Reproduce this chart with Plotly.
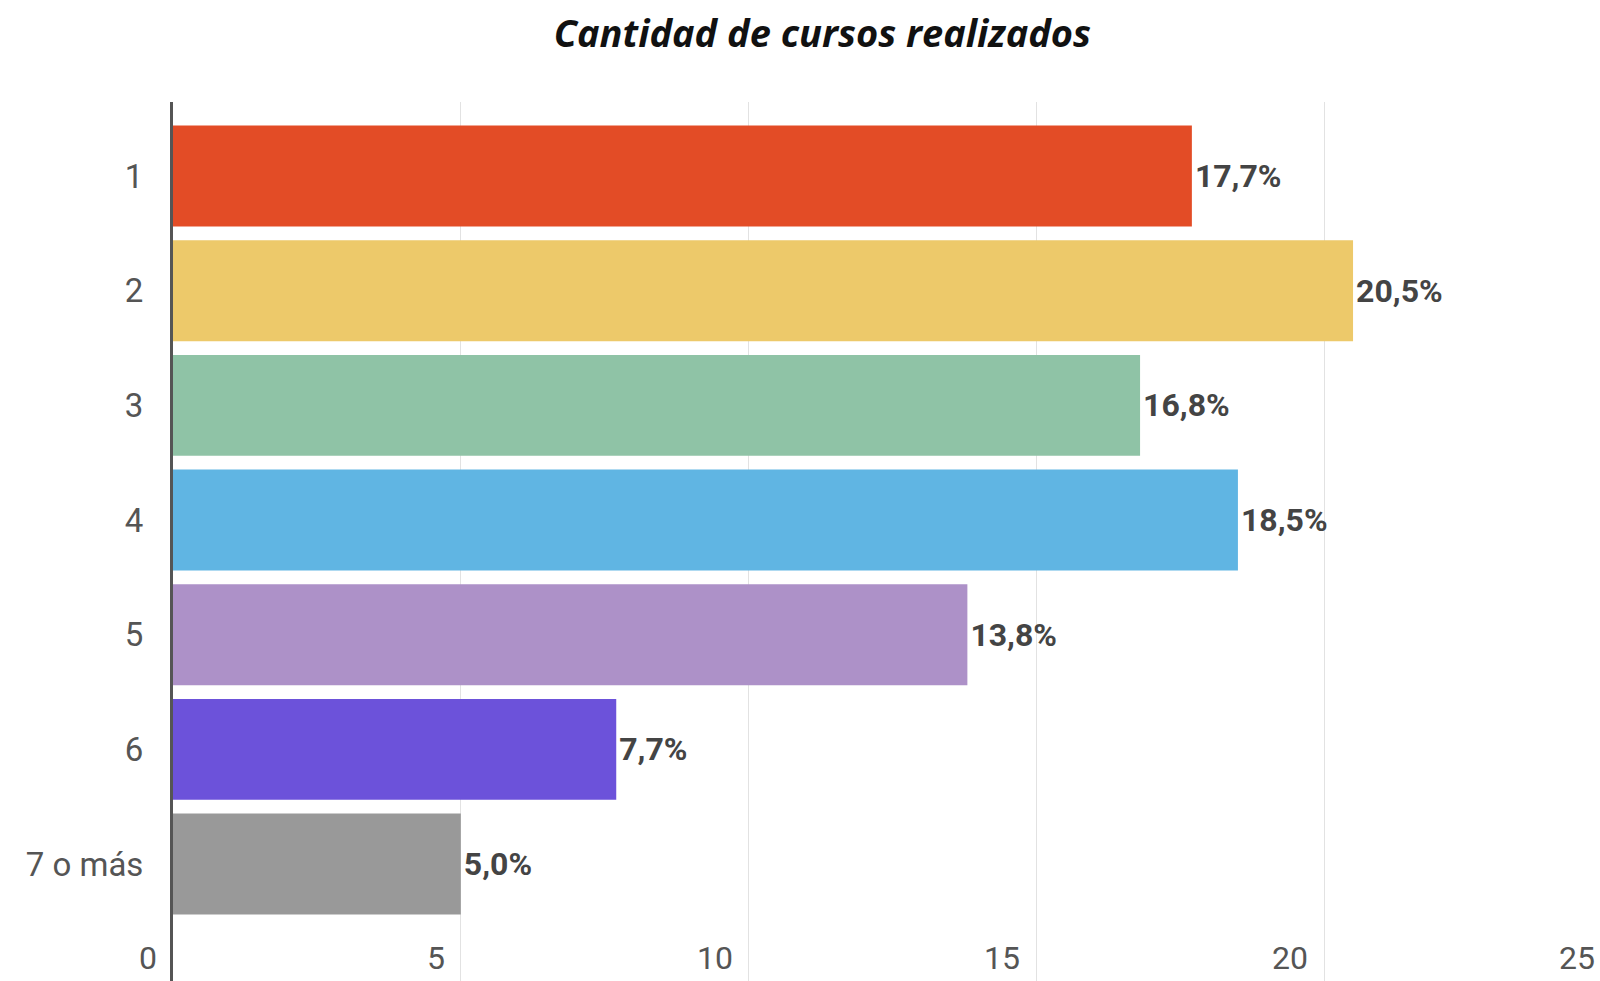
import plotly.graph_objects as go

categorias = ["1", "2", "3", "4", "5", "6", "7 o más"]
porcentajes = [17.7, 20.5, 16.8, 18.5, 13.8, 7.7, 5.0]
colores = ["#E34C26", "#EDC96A", "#8FC3A6", "#60B5E3", "#AD91C8", "#6C52DA", "#999999"]
x_ticks = [0, 5, 10, 15, 20]
x_max_label = 25

fig = go.Figure()
fig.add_trace(go.Bar(
    y=categorias, x=porcentajes, orientation="h",
    marker=dict(color=colores, line=dict(width=0)),
    texttemplate="%{x:.1f}%", textposition="outside", cliponaxis=False,
    textfont=dict(family="Roboto", size=32, color="#444", weight="bold"),
    showlegend=False,
))

tick_font = dict(family="Roboto", size=32, color="#555")

fig.update_layout(
    width=1600, height=981,
    margin=dict(l=173, r=0, t=102, b=0),
    plot_bgcolor="white", paper_bgcolor="white",
    separators=",.",
    bargap=0.12,
    title=dict(
        text="<b><i>Cantidad de cursos realizados</i></b>",
        font=dict(family="Open Sans", size=38, color="#111"),
        x=0.514, xref="container", xanchor="center",
        y=0.966, yref="container", yanchor="middle",
    ),
    xaxis=dict(
        range=[0, 24.79], tickvals=x_ticks,
        showgrid=True, gridcolor="#e2e2e2", gridwidth=1,
        zeroline=False, showline=False, showticklabels=False,
    ),
    yaxis=dict(
        categoryorder="array", categoryarray=categorias,
        range=[7.02, -0.646],
        showgrid=False, zeroline=False,
        showline=True, linecolor="#555", linewidth=3,
        tickfont=dict(family="Roboto", size=33, color="#555"),
        ticklabelstandoff=20,
    ),
)

# etiquetas del eje x, a la izquierda de cada línea de cuadrícula
for v in x_ticks:
    fig.add_annotation(
        x=v, xref="x", y=0, yref="paper", text=str(v), showarrow=False,
        xanchor="right", yanchor="bottom", xshift=-14, yshift=2,
        font=tick_font,
    )
fig.add_annotation(
    x=1, xref="paper", y=0, yref="paper", text=str(x_max_label), showarrow=False,
    xanchor="right", yanchor="bottom", xshift=-3, yshift=2,
    font=tick_font,
)

fig.write_html(
    "out.html",
    config={"displayModeBar": False},
    post_script="document.body.style.margin='0';",
)
